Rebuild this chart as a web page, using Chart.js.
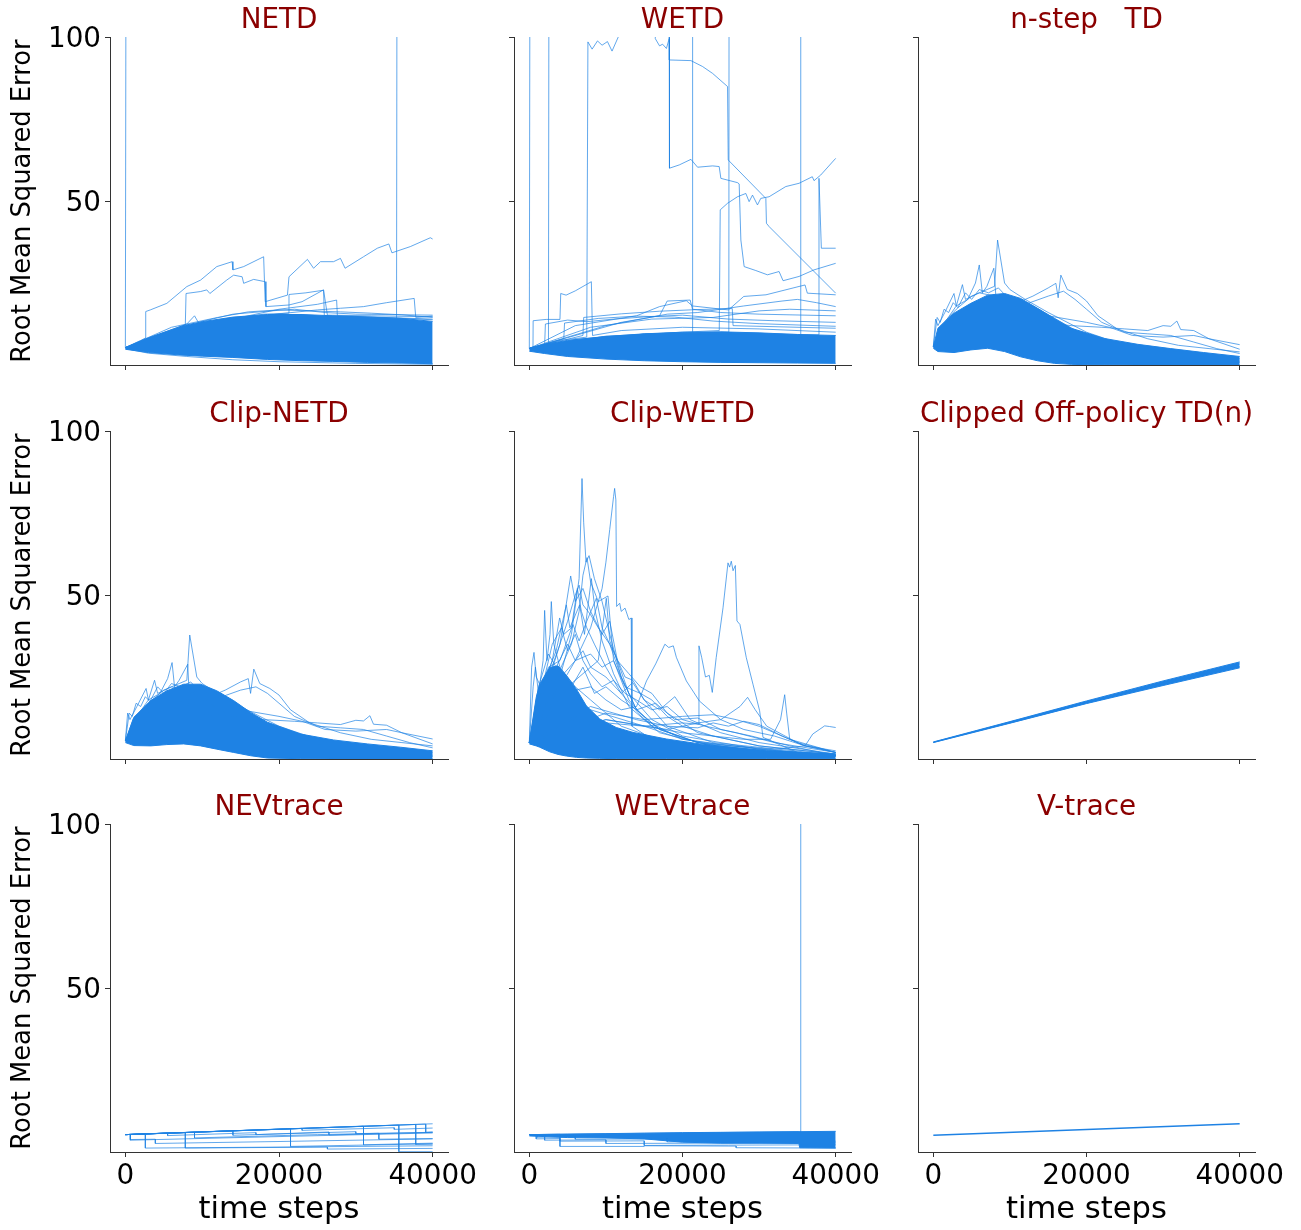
<!DOCTYPE html>
<html>
<head>
<meta charset="utf-8">
<title>RMSE runs</title>
<script src="https://cdn.jsdelivr.net/npm/chart.js"></script>
<style>
    html, body { margin: 0; padding: 0; background: #fff; }
    #figure { position: relative; width: 1301px; height: 1230px; overflow: hidden; }
    #figure canvas { position: absolute; }
</style>
</head>
<body>
<div id="figure"></div>
<script>
const X_TICKS = [0, 20000, 40000];
const Y_TICKS = [50, 100];
const TITLES = ['NETD', 'WETD', 'n-step   TD', 'Clip-NETD', 'Clip-WETD', 'Clipped Off-policy TD(n)', 'NEVtrace', 'WEVtrace', 'V-trace'];

// ---- NETD ----
const NETD_BAND_TOP = [[0,5.3],[3000,8.3],[7500,12.0],[10000,13.2],[14000,14.6],[18500,15.4],[23000,15.4],[27000,15.0],[31500,14.6],[36000,14.2],[40000,13.3]];
const NETD_BAND_BOTTOM = [[0,4.8],[3000,3.8],[7500,3.0],[10000,2.7],[14000,2.3],[18500,1.7],[23000,1.3],[27000,1.1],[31500,0.8],[36000,0.6],[40000,0.4]];
const NETD_RUN_1 = [[0,5.3],[2000,7.5],[2600,8.2],[2650,16.3],[3250,16.8],[5400,18.8],[8000,23.9],[9800,25.9],[11900,30.0],[13900,31.5],[14000,29.0],[15400,30.0],[18000,33.0],[18200,19.3],[21100,21.3],[21300,26.9],[23700,32.2],[24500,29.5],[25400,31.5],[27100,31.5],[28000,32.5],[28600,29.5],[31000,33.0],[32800,35.6],[34300,36.9],[34700,34.2],[37100,36.1],[39700,38.8],[40000,38.4]];
const NETD_RUN_2 = [[0,5.3],[3000,8.0],[7800,12.0],[7900,21.8],[9800,22.4],[10600,22.9],[11000,21.8],[13200,25.9],[14100,27.4],[15200,26.9],[15400,24.9],[16700,26.1],[18200,25.4],[18300,17.8],[21300,18.3],[23000,19.3],[25800,22.9],[26300,15.2],[32000,15.0],[40000,14.7]];
const NETD_RUN_3 = [[0,5.3],[10000,11.0],[20000,12.5],[30000,13.0],[35300,13.8],[35400,200]];
const NETD_RUN_4 = [[0,5.3],[130,200]];
const NETD_RUN_5 = [[0,5.3],[12000,13.5],[18000,15.5],[21200,15.8],[21300,21.5],[23500,22.0],[25800,22.8],[25900,15.0],[32000,14.6],[40000,13.8]];
const NETD_RUN_6 = [[0,5.3],[12000,13.0],[20000,15.6],[25000,16.8],[28000,17.3],[31000,17.8],[34000,19.0],[37600,20.3],[37800,14.5],[40000,14.9]];
const NETD_RUN_7 = [[0,5.3],[14000,14.0],[20000,17.0],[25000,18.5],[27500,19.8],[27600,15.0],[40000,14.0]];
const NETD_RUN_8 = [[0,5.3],[6000,11.5],[12000,14.5],[16000,16.2],[20000,16.8],[24000,16.5],[28000,16.2],[32000,15.8],[36000,15.3],[40000,14.5]];
const NETD_RUN_9 = [[0,5.3],[4000,9.0],[8000,12.5],[9000,15.0],[9500,13.0],[14000,15.5],[19000,16.5],[22000,17.0],[26000,16.0],[30000,15.5],[40000,15.2]];
const NETD_RUN_10 = [[0,5.0],[3000,3.6],[8000,2.6],[14000,1.6],[20000,1.0],[30000,0.5],[40000,0.2]];

// ---- WETD ----
const WETD_BAND_TOP = [[0,5.2],[2000,6.3],[5000,7.5],[10000,8.7],[15000,9.5],[20000,10.0],[25000,10.1],[30000,9.8],[35000,9.3],[40000,9.0]];
const WETD_BAND_BOTTOM = [[0,4.2],[2000,3.5],[5000,2.6],[10000,1.8],[15000,1.3],[20000,1.0],[25000,0.8],[30000,0.7],[35000,0.6],[40000,0.5]];
const WETD_RUN_1 = [[0,5.0],[2500,6.0],[2600,200],[16300,200],[16450,99.5],[17000,97.3],[17400,97.8],[17900,96.5],[18200,99.0],[18280,99.5],[18300,60.0],[19580,61.0],[21100,62.7],[21970,60.3],[23930,60.7],[24790,60.5],[25010,56.9],[27180,55.6],[27400,55.2],[27620,38.1],[28050,30.0],[29570,28.8],[31090,27.5],[32610,28.5],[33130,25.7],[35220,27.0],[37170,29.0],[40000,31.0]];
const WETD_RUN_2 = [[0,5.0],[130,200],[18270,200],[18280,93.0],[21100,92.8],[22620,91.0],[23930,88.9],[25880,84.9],[25970,62.5],[30880,50.8],[30960,43.2],[31310,42.2],[40000,21.9]];
const WETD_RUN_3 = [[0,5.0],[4000,7.5],[7500,8.5],[7650,98.5],[8200,96.3],[8900,98.8],[9500,97.5],[10200,98.6],[10800,95.7],[11800,101],[12100,200]];
const WETD_RUN_4 = [[0,5.0],[480,5.4],[500,13.5],[2200,13.9],[4000,13.9],[4100,21.8],[4800,21.3],[6000,22.6],[8100,25.4],[8250,9.0],[12000,10.5],[20000,11.5],[30000,11.0],[40000,10.0]];
const WETD_RUN_5 = [[0,5.0],[6000,7.8],[12000,9.0],[20000,10.0],[24800,10.5],[24925,47.3],[25880,49.3],[27180,51.3],[28270,52.3],[28700,49.8],[29140,51.8],[29790,48.8],[30220,50.8],[31310,51.3],[33480,54.4],[35220,55.4],[36950,57.4],[37170,56.2],[38040,57.9],[40000,63.0]];
const WETD_RUN_6 = [[0,5.0],[10000,8.5],[20000,9.5],[30000,9.5],[37700,9.2],[37820,56.9],[38130,35.6],[40000,35.6]];
const WETD_RUN_7 = [[0,5.0],[10000,8.8],[21250,9.5],[21320,200]];
const WETD_RUN_8 = [[0,5.0],[15000,9.5],[26050,10.0],[26100,200]];
const WETD_RUN_9 = [[0,5.0],[20000,9.0],[35400,8.5],[35440,200]];
const WETD_RUN_10 = [[0,5.0],[6000,12.0],[14000,15.0],[17000,17.8],[20500,19.6],[21300,18.0],[26000,16.8],[28000,20.9],[30900,21.4],[36000,24.4],[36300,21.9],[40000,21.4]];
const WETD_RUN_11 = [[0,5.0],[10000,12.0],[18000,15.5],[22000,16.0],[28000,18.0],[33000,19.5],[35000,20.0],[37500,19.0],[40000,17.8]];
const WETD_RUN_12 = [[0,5.0],[8000,11.5],[16000,14.0],[24000,14.5],[30000,16.5],[34000,17.0],[40000,16.5]];
const WETD_RUN_13 = [[0,5.0],[12000,13.0],[17000,15.0],[18000,19.5],[21000,19.8],[21300,17.0],[25000,16.0],[30000,15.5],[40000,15.0]];
const WETD_RUN_14 = [[0,5.0],[2000,6.0],[2100,12.5],[5000,13.7],[7500,13.2],[11000,14.0],[16000,14.8],[20000,15.2],[26000,14.0],[32000,13.5],[40000,13.0]];
const WETD_RUN_15 = [[0,5.0],[4500,8.0],[4600,12.8],[9000,14.2],[14000,14.9],[19000,14.6],[24000,13.4],[30000,12.6],[40000,11.8]];
const WETD_RUN_16 = [[0,5.0],[7000,9.0],[7100,14.5],[12000,15.6],[17000,16.4],[22000,16.9],[26500,17.2],[26600,12.0],[40000,11.2]];

// ---- n-step TD ----
const NSTEP_BAND_TOP = [[0,5.6],[600,11.2],[2700,15.8],[4900,18.8],[7100,21.3],[9300,21.8],[11400,20.3],[13600,17.3],[15800,14.2],[18000,11.2],[20100,9.7],[22300,8.1],[26700,6.3],[31000,5.0],[35300,3.8],[40000,2.6]];
const NSTEP_BAND_BOTTOM = [[0,5.1],[600,4.1],[2700,3.8],[4900,4.6],[7100,5.1],[9300,4.1],[11400,2.5],[13600,1.3],[15800,0.5],[18000,0.2],[20100,0.1],[22300,0.1],[26700,0],[31000,0],[35300,0],[40000,0]];
const NSTEP_RUN_1 = [[0,5.6],[1000,12],[3000,17],[5000,21],[7000,23],[8000,24],[8390,38.1],[9300,25],[10000,23],[12000,20],[15000,16],[20000,10],[25000,6],[30000,4],[40000,2]];
const NSTEP_RUN_2 = [[0,5.5],[1500,13],[3000,18],[4500,20],[5500,25],[6000,30.5],[6400,22],[7000,24],[7900,29.5],[8200,20],[10000,21],[13000,17],[18000,11],[25000,6],[40000,1.5]];
const NSTEP_RUN_3 = [[0,5.5],[2000,13],[5000,16],[8000,18],[11000,19],[13000,21],[15000,23.5],[16000,24.9],[16300,20.5],[16650,27.4],[17500,23],[18800,21.8],[20000,19.5],[21500,15],[24000,11],[28000,8],[32000,6],[36000,5],[40000,4]];
const NSTEP_RUN_4 = [[0,5.4],[3000,12],[8000,14],[14000,13],[18000,12],[22000,11.5],[25000,11],[28000,10.5],[30000,12],[31000,11.8],[31800,13.4],[32300,10.8],[34000,10.5],[36000,8],[40000,6.2]];
const NSTEP_RUN_5 = [[0,5.5],[5000,15],[10000,17],[15000,15],[20000,13],[23000,11.5],[26000,9],[30000,8.5],[34000,9],[36000,8],[40000,4.8]];
const NSTEP_RUN_6 = [[0,5.6],[300,14],[600,12],[1500,16],[2700,21.8],[3000,18],[3800,24.5],[4200,20],[6000,22],[8000,21],[10000,18],[14000,13],[20000,8],[26000,4],[32000,2],[40000,0.8]];
const NSTEP_RUN_7 = [[0,5.5],[4000,14],[8000,17],[12000,18.5],[15000,21],[17000,22.5],[18500,20],[20000,17],[22000,13],[25000,10],[28000,9.5],[31000,9],[34000,7],[37000,5],[40000,3.5]];
const NSTEP_RUN_8 = [[0,5.6],[500,14.5],[900,13],[1400,17],[2000,16],[2600,19],[3200,17.5],[4200,22],[5000,20],[6000,23],[7200,22],[8500,23.5],[9500,21],[11000,20],[13000,18],[16000,14],[19000,10],[23000,7],[28000,4],[34000,2],[40000,1]];

// ---- Clip-NETD ----
const CLIPN_BAND_TOP = [[0,5.5],[1100,12.7],[3300,17.8],[5400,20.8],[7600,22.8],[9800,22.8],[11900,20.8],[14100,17.8],[16300,14.2],[18500,11.2],[22800,7.6],[27100,5.8],[31500,4.6],[35800,3.6],[40000,2.5]];
const CLIPN_BAND_BOTTOM = [[0,5.0],[1100,4.1],[3300,4.0],[5400,4.4],[7600,4.6],[9800,4.0],[11900,3.0],[14100,2.0],[16300,1.0],[18500,0.3],[22800,0.1],[27100,0],[31500,0],[35800,0],[40000,0]];
const CLIPN_RUN_1 = [[0,5.5],[1000,12],[3000,17],[5000,21],[7000,23],[8000,24],[8380,37.8],[9300,25],[10000,23],[12000,20],[15000,16],[20000,10],[25000,6],[30000,4],[40000,2]];
const CLIPN_RUN_2 = [[0,5.5],[1500,13],[3000,18],[4500,20],[5500,24.5],[6080,29.4],[6400,22],[7000,24],[8120,28.9],[8300,20],[10000,21],[13000,17],[18000,11],[25000,6],[40000,1.5]];
const CLIPN_RUN_3 = [[0,5.5],[2000,13],[5000,16],[8000,18],[11000,19],[13000,21],[15000,23.5],[16000,24.5],[16300,20],[16720,27.4],[17500,23],[18800,21.5],[20000,19.5],[21500,15],[24000,11],[28000,8],[32000,6],[36000,5],[40000,4]];
const CLIPN_RUN_4 = [[0,5.4],[3000,12],[8000,14],[14000,13],[18000,12],[22000,11.5],[25000,11],[28000,10.5],[30000,11.8],[31000,11.6],[31830,13.2],[32300,10.6],[34000,10.3],[36000,8],[40000,6.1]];
const CLIPN_RUN_5 = [[0,5.5],[5000,15],[10000,17],[15000,15],[20000,13],[23000,11.5],[26000,9],[30000,8.5],[34000,9],[36000,8],[40000,4.6]];
const CLIPN_RUN_6 = [[0,5.6],[300,14],[600,12],[1500,16],[2700,21.5],[3000,18],[3800,24],[4200,20],[6000,22],[8000,21],[10000,18],[14000,13],[20000,8],[26000,4],[32000,2],[40000,0.8]];
const CLIPN_RUN_7 = [[0,5.5],[4000,14],[8000,17],[12000,18.5],[15000,21],[17000,22],[18500,20],[20000,17],[22000,13],[25000,10],[28000,9.5],[31000,9],[34000,7],[37000,5],[40000,3.4]];
const CLIPN_RUN_8 = [[0,5.6],[500,14],[900,13],[1400,17],[2000,16],[2600,19],[3200,17.5],[4200,22],[5000,20],[6000,23],[7200,22],[8500,23.5],[9500,21],[11000,20],[13000,18],[16000,14],[19000,10],[23000,7],[28000,4],[34000,2],[40000,1]];

// ---- Clip-WETD ----
const CLIPW_BAND_TOP = [[0,5.1],[900,18.8],[1350,22.8],[2650,27.9],[3750,28.4],[4850,25.4],[6150,21.3],[7450,16.2],[9200,12.2],[11350,9.6],[13550,8.1],[17900,6.1],[22250,4.6],[26600,3.5],[30950,2.5],[40000,1.5]];
const CLIPW_BAND_BOTTOM = [[0,4.6],[900,4.0],[1350,3.6],[2650,2.2],[3750,1.4],[4850,0.9],[6150,0.5],[7450,0.3],[9200,0.2],[11350,0.1],[13550,0.1],[17900,0.1],[22250,0.1],[26600,0.1],[30950,0.1],[40000,0.1]];
const CLIPW_RUN_1 = [[0,5.0],[2000,15],[4000,25],[5500,38],[6500,55],[6880,85.5],[7100,72],[7400,60],[7800,62],[8500,55],[9500,48],[10500,38],[12000,25],[14000,15],[17000,9],[22000,5],[30000,2],[40000,1]];
const CLIPW_RUN_2 = [[0,5.0],[3000,18],[6000,30],[8000,40],[9500,52],[10000,60],[10500,70],[11000,80],[11140,82.5],[11300,79],[11400,46.5],[11800,47.5],[12000,45],[12500,46],[13000,42.5],[13300,43],[13400,10],[16000,6],[25000,3],[40000,1.5]];
const CLIPW_RUN_3 = [[0,5.0],[5000,12],[10000,11],[15000,10],[20000,11],[22100,10.6],[22150,34.5],[22500,31],[23000,25],[23500,25.5],[23890,20.3],[24400,30.9],[25290,46.1],[25940,59.8],[26150,58.5],[26370,60.3],[26600,57.4],[26900,59],[27110,42.1],[27500,41],[28330,30.9],[29200,22.8],[30070,14.7],[30510,6.6],[35000,2],[40000,1]];
const CLIPW_RUN_4 = [[0,5.0],[4000,20],[8000,22],[10000,18],[12000,15],[14000,16],[15300,23.8],[16500,29],[17700,35],[18200,34],[18800,34.5],[19200,31],[20500,23.8],[22200,17.7],[25000,12],[28000,9],[32000,7],[36000,4],[40000,2]];
const CLIPW_RUN_5 = [[0,5.0],[10000,12],[20000,8],[28000,6],[31500,6],[32800,12],[33340,19.6],[33600,14],[34000,6],[40000,2]];
const CLIPW_RUN_6 = [[0,5.0],[8000,15],[15000,10],[20000,6],[26000,4],[32000,3],[36000,4],[37000,7.6],[38560,10.1],[39200,9.9],[40000,9.6]];
const CLIPW_RUN_7 = [[0,5.0],[10000,12],[18000,9],[22000,11],[25000,12],[27500,16],[28500,18.8],[29500,15],[31000,10],[35000,5],[40000,2]];
const CLIPW_RUN_8 = [[0,5.0],[10000,14],[15000,12],[20000,13],[24000,13.5],[27000,12],[30000,10],[33000,7],[36000,4],[40000,2.5]];
const CLIPW_RUN_9 = [[0,5.0],[500,22],[800,28],[1200,20],[1800,30],[2000,45.3],[2300,30],[2700,38],[2870,48],[3200,35],[4000,28],[6000,22],[8000,18],[12000,10],[18000,5],[30000,2],[40000,0.8]];
const CLIPW_RUN_10 = [[0,5.0],[300,28],[610,32.5],[900,25],[1500,22],[3000,24],[5000,20],[8000,12],[14000,6],[25000,2],[40000,1]];
const CLIPW_RUN_11 = [[0,5.0],[2000,20],[4000,35],[5400,55.8],[6000,48],[7000,52],[8000,45],[9500,38],[10500,42],[11500,30],[13000,20],[16000,12],[20000,7],[30000,3],[40000,1]];
const CLIPW_RUN_12 = [[0,5.0],[3000,22],[5500,35],[6500,45],[7000,56],[7530,61.4],[8000,54],[9000,48],[10270,49.7],[11000,30],[13000,18],[16000,10],[22000,5],[40000,1]];
const CLIPW_RUN_13 = [[0,5.0],[5000,22],[8000,28],[10000,25],[12000,20],[13500,23.3],[15000,18],[17000,15],[19000,19],[21000,12],[25000,8],[30000,5],[40000,1.5]];
const CLIPW_RUN_14 = [[0,5.0],[2500,25],[4000,35],[5000,42],[6000,50],[6500,53],[7000,47],[8000,44],[9000,40],[10500,35],[12000,25],[14000,15],[17000,9],[22000,5],[30000,2.5],[40000,1]];
const CLIPW_RUN_15 = [[0,5.0],[3000,22],[6000,30],[8000,32],[9500,28],[11000,30],[12500,22],[14500,20],[16000,18],[18000,13],[20000,10],[24000,7],[30000,4],[40000,1.5]];
const CLIPW_RUN_16 = [[0,5.0],[8000,16],[14000,12],[18000,10],[22000,9.5],[24000,11],[26000,10],[28000,11.5],[30000,10.5],[33000,7],[36000,4],[40000,2]];
const CLIPW_RUN_17 = [[0,5.0],[1500,20],[3000,30],[3960,43],[4500,38],[5500,40],[6270,52],[6800,45],[7500,40],[8500,35],[10000,28],[12000,20],[15000,12],[20000,6],[30000,3],[40000,1]];
const CLIPW_RUN_18 = [[0,5.0],[2000,24],[3500,33],[4830,47],[5300,40],[6570,47],[7200,38],[8100,55],[8600,45],[9500,36],[11000,26],[13000,16],[17000,8],[24000,4],[40000,1]];
const CLIPW_RUN_19 = [[0,5.0],[1000,18],[2500,28],[4000,30],[5700,41],[6500,36],[7500,42],[8750,49],[9500,40],[10500,35],[11360,31],[12500,25],[13530,24],[15000,18],[18000,10],[24000,5],[40000,1.2]];
const CLIPW_RUN_20 = [[0,5.0],[1200,22],[2500,32],[3500,28],[5000,35],[6000,30],[7000,33],[8000,28],[9000,30],[10050,49],[10500,36],[11500,30],[13000,26],[14500,22],[16000,20],[18000,14],[22000,8],[30000,4],[40000,1.5]];
const CLIPW_RUN_21 = [[0,5.0],[800,15],[2000,25],[3000,35],[4200,40],[5000,33],[6000,38],[7000,30],[8000,26],[9500,22],[11000,24],[12500,20],[14000,18],[16000,15],[18000,16],[20000,12],[23000,10],[27000,8],[32000,5],[40000,2]];
const CLIPW_RUN_22 = [[0,5.0],[1000,16],[2200,22],[3000,19],[4500,26],[5500,22],[7000,28],[8500,20],[10000,22],[12000,18],[14000,15],[16500,17],[19000,12],[22000,12.5],[25000,9],[29000,7],[34000,4],[40000,1]];

// ---- Clipped Off-policy TD(n) ----
const CLIPOFF_BAND_TOP = [[0,5.2],[10000,11.4],[20000,17.7],[30000,23.8],[40000,29.6]];
const CLIPOFF_BAND_BOTTOM = [[0,5.0],[10000,10.9],[20000,16.9],[30000,22.4],[40000,27.8]];
const CLIPOFF_RUN_1 = [[0,5.1],[10000,11.2],[20000,17.4],[30000,23.3],[40000,29.0]];
const CLIPOFF_RUN_2 = [[0,5.1],[10000,11.0],[20000,17.0],[30000,22.8],[40000,28.2]];

// ---- NEVtrace ----
const NEV_RUN_1 = [[0,5.3],[40000,8.6]];
const NEV_RUN_2 = [[0,5.3],[650,5.35],[650,3.6],[20000,4.7],[40000,5.8]];
const NEV_RUN_3 = [[0,5.3],[2600,5.5],[2600,1.2],[20000,1.5],[40000,1.9]];
const NEV_RUN_4 = [[0,5.3],[650,5.35],[650,3.8],[3900,3.9],[3900,2.6],[20000,3.2],[40000,4.0]];
const NEV_RUN_5 = [[0,5.3],[7800,5.9],[7800,1.2],[26300,1.5],[26300,0.9],[40000,1.1]];
const NEV_RUN_6 = [[0,5.3],[21500,7.1],[21500,1.7],[40000,2.5]];
const NEV_RUN_7 = [[0,5.3],[31000,7.9],[31000,2.2],[40000,2.7]];
const NEV_RUN_8 = [[0,5.3],[35600,8.2],[35600,0.1],[40000,0.1]];
const NEV_RUN_9 = [[0,5.3],[37800,8.4],[37800,2.3],[40000,2.4]];
const NEV_RUN_10 = [[0,5.3],[39100,8.5],[39100,6.0],[40000,6.1]];
const NEV_RUN_11 = [[0,5.3],[14000,6.5],[14000,5.1],[30000,6.2],[30000,5.6],[40000,6.0]];
const NEV_RUN_12 = [[0,5.3],[5500,5.8],[5500,5.0],[17000,5.9],[17000,5.3],[26500,6.1],[26500,5.2],[40000,6.0]];
const NEV_RUN_13 = [[0,5.3],[9000,6.0],[9000,4.3],[25000,5.3],[33000,5.7],[33000,3.9],[40000,4.1]];
const NEV_RUN_14 = [[0,5.3],[23000,7.2],[23000,6.6],[35000,7.4],[35000,6.9],[40000,7.3]];

// ---- WEVtrace ----
const WEV_BAND_TOP = [[0,5.3],[5000,5.45],[10000,5.6],[15000,5.75],[20000,5.9],[25000,6.0],[30000,6.1],[35200,6.2],[35300,6.2],[40000,6.3]];
const WEV_BAND_BOTTOM = [[0,4.9],[5000,4.4],[10000,4.3],[15000,4.0],[20000,3.0],[25000,2.7],[30000,2.7],[35200,2.6],[35300,1.3],[40000,1.2]];
const WEV_RUN_1 = [[0,5.3],[35400,6.2],[35440,200]];
const WEV_RUN_2 = [[0,5.3],[900,5.3],[900,4.0],[4000,4.1],[4000,3.3],[15000,3.4],[15000,2.0],[26000,2.1],[40000,2.2]];
const WEV_RUN_3 = [[0,5.3],[2000,5.3],[2000,3.6],[10000,3.7],[10000,2.6],[40000,2.8]];
const WEV_RUN_4 = [[0,5.3],[4000,5.4],[4000,1.7],[15000,1.7],[15000,1.9],[27000,1.8],[27000,1.3],[40000,1.2]];
const WEV_RUN_5 = [[0,5.3],[1000,5.3],[1000,4.5],[6000,4.6],[6000,3.9],[18000,4.0],[18000,3.1],[40000,3.3]];

// ---- V-trace ----
const VTRACE_RUN_1 = [[0,5.1],[40000,8.6]];

const PANELS = [
    { bands: [[NETD_BAND_BOTTOM, NETD_BAND_TOP]], runs: [NETD_RUN_1, NETD_RUN_2, NETD_RUN_3, NETD_RUN_4, NETD_RUN_5, NETD_RUN_6, NETD_RUN_7, NETD_RUN_8, NETD_RUN_9, NETD_RUN_10] },
    { bands: [[WETD_BAND_BOTTOM, WETD_BAND_TOP]], runs: [WETD_RUN_1, WETD_RUN_2, WETD_RUN_3, WETD_RUN_4, WETD_RUN_5, WETD_RUN_6, WETD_RUN_7, WETD_RUN_8, WETD_RUN_9, WETD_RUN_10, WETD_RUN_11, WETD_RUN_12, WETD_RUN_13, WETD_RUN_14, WETD_RUN_15, WETD_RUN_16] },
    { bands: [[NSTEP_BAND_BOTTOM, NSTEP_BAND_TOP]], runs: [NSTEP_RUN_1, NSTEP_RUN_2, NSTEP_RUN_3, NSTEP_RUN_4, NSTEP_RUN_5, NSTEP_RUN_6, NSTEP_RUN_7, NSTEP_RUN_8] },
    { bands: [[CLIPN_BAND_BOTTOM, CLIPN_BAND_TOP]], runs: [CLIPN_RUN_1, CLIPN_RUN_2, CLIPN_RUN_3, CLIPN_RUN_4, CLIPN_RUN_5, CLIPN_RUN_6, CLIPN_RUN_7, CLIPN_RUN_8] },
    { bands: [[CLIPW_BAND_BOTTOM, CLIPW_BAND_TOP]], runs: [CLIPW_RUN_1, CLIPW_RUN_2, CLIPW_RUN_3, CLIPW_RUN_4, CLIPW_RUN_5, CLIPW_RUN_6, CLIPW_RUN_7, CLIPW_RUN_8, CLIPW_RUN_9, CLIPW_RUN_10, CLIPW_RUN_11, CLIPW_RUN_12, CLIPW_RUN_13, CLIPW_RUN_14, CLIPW_RUN_15, CLIPW_RUN_16, CLIPW_RUN_17, CLIPW_RUN_18, CLIPW_RUN_19, CLIPW_RUN_20, CLIPW_RUN_21, CLIPW_RUN_22] },
    { bands: [[CLIPOFF_BAND_BOTTOM, CLIPOFF_BAND_TOP]], runs: [CLIPOFF_RUN_1, CLIPOFF_RUN_2] },
    { bands: [], runs: [NEV_RUN_1, NEV_RUN_2, NEV_RUN_3, NEV_RUN_4, NEV_RUN_5, NEV_RUN_6, NEV_RUN_7, NEV_RUN_8, NEV_RUN_9, NEV_RUN_10, NEV_RUN_11, NEV_RUN_12, NEV_RUN_13, NEV_RUN_14] },
    { bands: [[WEV_BAND_BOTTOM, WEV_BAND_TOP]], runs: [WEV_RUN_1, WEV_RUN_2, WEV_RUN_3, WEV_RUN_4, WEV_RUN_5] },
    { bands: [], runs: [VTRACE_RUN_1], solid: true },
];

// figure layout (pixels): canvas box per column / row, plot area fixed through afterFit
const COLS = [
    { left: 0, yAxisW: 110, width: 498, padRight: 50 },
    { left: 470, yAxisW: 44, width: 431, padRight: 50 },
    { left: 874, yAxisW: 44, width: 427, padRight: 46 },
];
const ROWS = [
    { top: 0, xAxisH: 10 },
    { top: 394, xAxisH: 10 },
    { top: 787, xAxisH: 78 },
];

const FONT = "'DejaVu Sans', sans-serif";
const BLUE = 'rgb(30,130,228)';
const RUN_BLUE = 'rgba(30,130,228,0.78)';
const AXIS = '#333';

const figure = document.getElementById('figure');

PANELS.forEach((panel, i) => {
    const row = ROWS[Math.floor(i / 3)];
    const col = COLS[i % 3];
    const showX = i >= 6;
    const showY = i % 3 === 0;

    const canvas = document.createElement('canvas');
    canvas.width = col.width;
    canvas.height = 365 + row.xAxisH;
    canvas.style.left = col.left + 'px';
    canvas.style.top = row.top + 'px';
    figure.appendChild(canvas);

    const datasets = [];
    panel.runs.forEach(run => {
        datasets.push({
            data: run,
            borderColor: panel.solid ? BLUE : RUN_BLUE,
            borderWidth: panel.solid ? 1.6 : 0.9,
            fill: false,
        });
    });
    panel.bands.forEach(([bottom, top]) => {
        datasets.push({ data: bottom, borderColor: BLUE, borderWidth: 1, fill: false });
        datasets.push({ data: top, borderColor: BLUE, borderWidth: 1, backgroundColor: BLUE, fill: '-1' });
    });

    const grid = { drawOnChartArea: false, drawTicks: true, tickLength: 5, color: AXIS, lineWidth: 1 };
    const border = { display: true, color: AXIS, width: 1 };

    new Chart(canvas, {
        type: 'line',
        data: { datasets },
        options: {
            responsive: false,
            animation: false,
            events: [],
            layout: { padding: { left: 0, top: 0, right: col.padRight, bottom: 0 } },
            elements: { point: { radius: 0 }, line: { tension: 0 } },
            scales: {
                x: {
                    type: 'linear',
                    min: -2000,
                    max: 42000,
                    afterBuildTicks: s => { s.ticks = X_TICKS.map(v => ({ value: v })); },
                    afterFit: s => { s.height = row.xAxisH; s.paddingLeft = 0; s.paddingRight = 0; },
                    grid,
                    border,
                    ticks: {
                        display: showX,
                        autoSkip: false,
                        maxRotation: 0,
                        padding: 3,
                        color: '#000',
                        font: { family: FONT, size: 27.8 },
                        callback: v => String(v),
                    },
                    title: {
                        display: showX,
                        text: 'time steps',
                        color: '#000',
                        font: { family: FONT, size: 30.6 },
                        padding: { top: 0, bottom: 2 },
                    },
                },
                y: {
                    type: 'linear',
                    min: 0,
                    max: 100,
                    afterBuildTicks: s => { s.ticks = Y_TICKS.map(v => ({ value: v })); },
                    afterFit: s => { s.width = col.yAxisW; s.paddingTop = 0; s.paddingBottom = 0; },
                    grid,
                    border,
                    ticks: {
                        display: showY,
                        autoSkip: false,
                        padding: 4,
                        labelOffset: 3,
                        color: '#000',
                        font: { family: FONT, size: 27.8 },
                        callback: v => String(v),
                    },
                    title: {
                        display: showY,
                        text: 'Root Mean Squared Error',
                        color: '#000',
                        font: { family: FONT, size: 25.8 },
                        padding: { top: 7.5, bottom: 0 },
                    },
                },
            },
            plugins: {
                legend: { display: false },
                tooltip: { enabled: false },
                title: {
                    display: true,
                    text: TITLES[i],
                    color: '#8B0000',
                    fullSize: false,
                    font: { family: FONT, size: 27.8, weight: 'normal', lineHeight: 1.2 },
                    padding: { top: 3.64, bottom: 0 },
                },
            },
        },
    });
});
</script>
</body>
</html>
